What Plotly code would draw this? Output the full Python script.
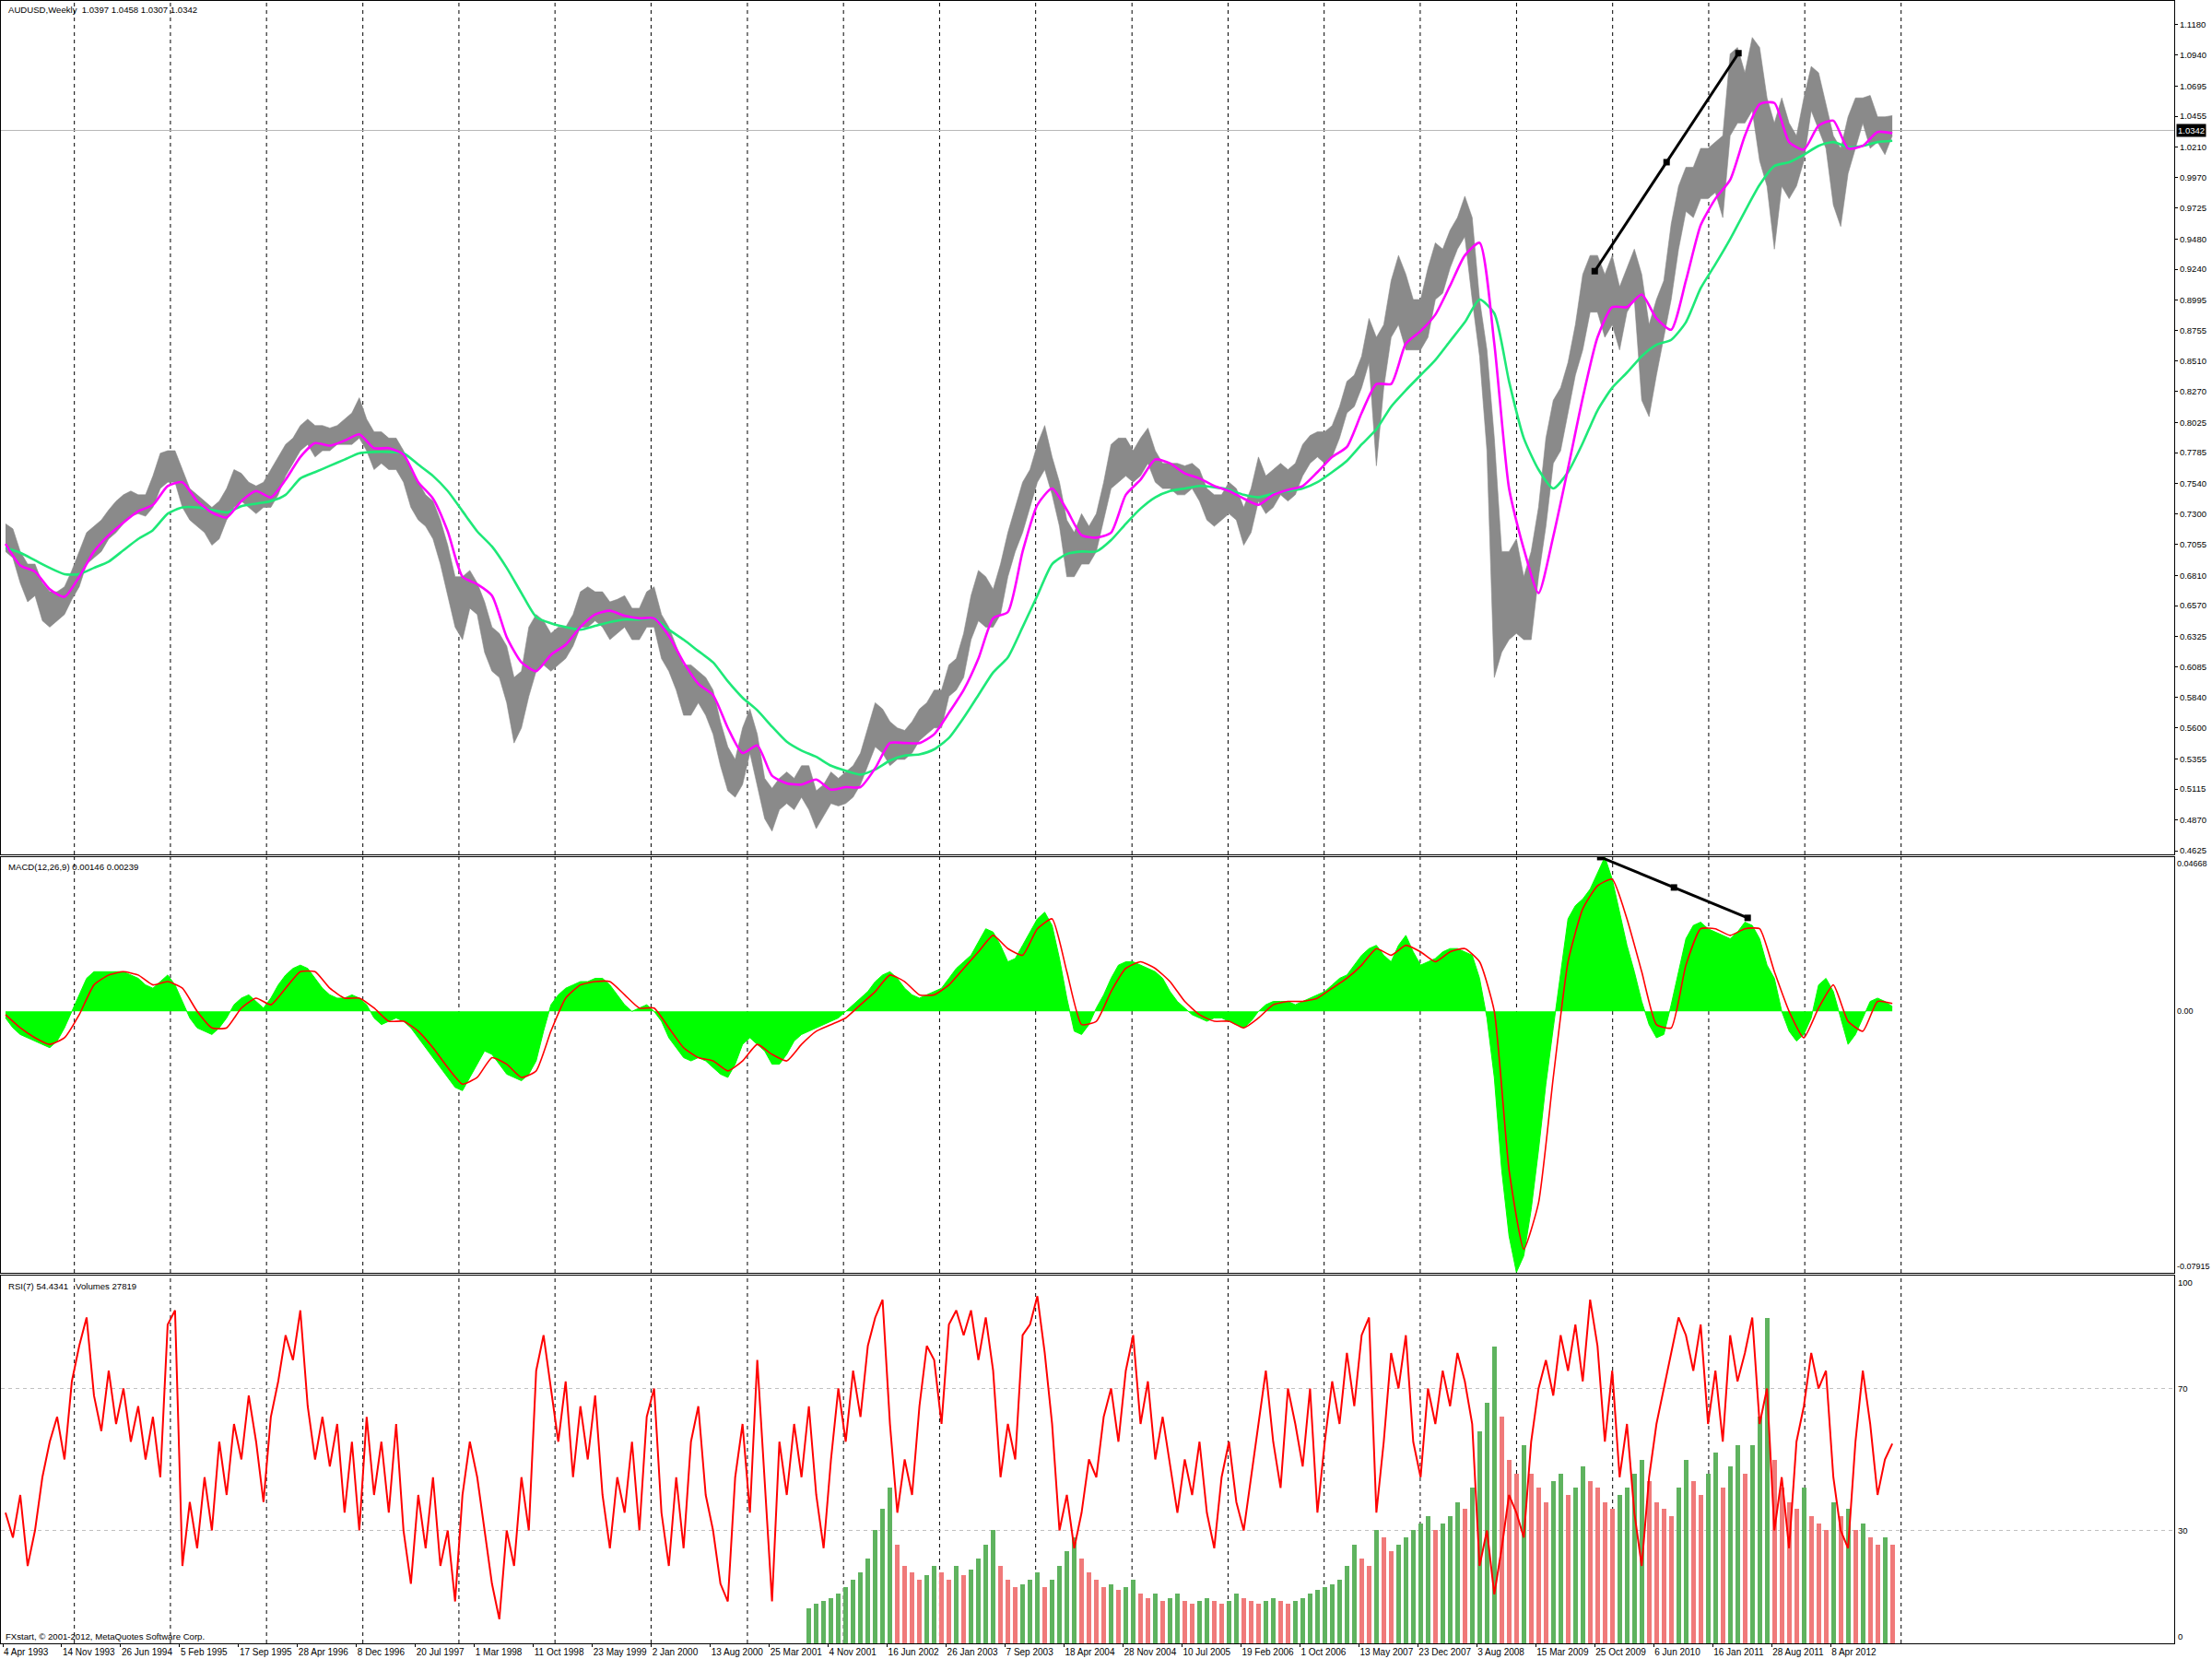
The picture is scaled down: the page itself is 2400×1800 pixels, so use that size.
import pandas as pd
import plotly.graph_objects as go
from plotly.subplots import make_subplots

# ------------------------------------------------------------------ data
SYMBOL = "AUDUSD,Weekly"
LAST_OHLC = [1.0397, 1.0458, 1.0307, 1.0342]
MACD_LAST, SIGNAL_LAST = 0.00146, 0.00239
RSI_LAST = 54.4341
VOLUME_LAST = 27819
COPYRIGHT = "FXstart, © 2001-2012, MetaQuotes Software Corp."

FIRST_BAR = "1993-04-04"   # first weekly bar
SAMPLE_WEEKS = 4           # values below were read every 4 weekly bars

price_low = [0.700,0.695,0.675,0.660,0.665,0.645,0.640,0.645,0.650,0.662,
 0.672,0.690,0.695,0.700,0.710,0.715,0.722,0.728,0.730,0.728,0.735,0.750,0.755,
 0.755,0.735,0.725,0.720,0.715,0.705,0.710,0.725,0.735,0.740,0.735,0.730,0.735,
 0.735,0.745,0.760,0.770,0.780,0.785,0.775,0.780,0.780,0.785,0.785,0.785,0.790,
 0.780,0.765,0.770,0.765,0.765,0.755,0.735,0.725,0.720,0.710,0.690,0.665,0.640,
 0.630,0.655,0.650,0.620,0.605,0.600,0.580,0.548,0.560,0.585,0.605,0.610,0.605,
 0.610,0.615,0.625,0.640,0.640,0.645,0.640,0.630,0.635,0.640,0.630,0.630,0.640,
 0.640,0.615,0.605,0.590,0.570,0.570,0.580,0.570,0.555,0.530,0.510,0.505,0.515,
 0.540,0.515,0.488,0.478,0.495,0.500,0.495,0.505,0.495,0.480,0.490,0.500,0.498,
 0.500,0.505,0.515,0.530,0.545,0.540,0.530,0.535,0.535,0.540,0.550,0.555,0.560,
 0.560,0.585,0.590,0.600,0.630,0.645,0.640,0.640,0.650,0.680,0.700,0.715,0.735,
 0.755,0.765,0.745,0.720,0.680,0.680,0.690,0.690,0.700,0.725,0.750,0.755,0.760,
 0.755,0.760,0.770,0.755,0.750,0.750,0.745,0.745,0.750,0.740,0.725,0.720,0.725,
 0.730,0.725,0.705,0.715,0.740,0.730,0.735,0.745,0.740,0.745,0.760,0.770,0.775,
 0.770,0.775,0.790,0.810,0.815,0.830,0.850,0.768,0.830,0.870,0.880,0.860,0.860,
 0.860,0.870,0.900,0.905,0.925,0.940,0.950,0.900,0.855,0.780,0.600,0.620,0.630,
 0.635,0.630,0.630,0.680,0.720,0.770,0.780,0.810,0.840,0.860,0.890,0.890,0.870,
 0.880,0.860,0.890,0.900,0.820,0.807,0.840,0.870,0.900,0.940,0.970,0.965,0.980,
 0.980,0.985,0.965,1.030,1.040,1.040,1.050,1.010,0.990,0.940,0.990,0.980,0.990,
 1.010,1.050,1.035,1.020,0.975,0.958,1.000,1.020,1.040,1.020,1.025,1.015,1.030]

price_high = [0.722,0.718,0.700,0.690,0.690,0.675,0.668,0.668,0.672,0.685,
 0.700,0.715,0.720,0.725,0.733,0.740,0.745,0.748,0.745,0.745,0.760,0.778,0.780,
 0.780,0.765,0.750,0.745,0.740,0.735,0.740,0.750,0.765,0.762,0.755,0.752,0.755,
 0.765,0.775,0.785,0.790,0.800,0.805,0.800,0.800,0.798,0.800,0.805,0.810,0.822,
 0.805,0.795,0.795,0.790,0.790,0.780,0.765,0.755,0.745,0.740,0.725,0.705,0.680,
 0.680,0.685,0.675,0.660,0.640,0.635,0.625,0.600,0.605,0.640,0.650,0.645,0.635,
 0.640,0.640,0.650,0.668,0.672,0.668,0.668,0.660,0.662,0.665,0.655,0.655,0.668,
 0.672,0.650,0.640,0.625,0.610,0.610,0.605,0.600,0.590,0.565,0.545,0.535,0.560,
 0.575,0.555,0.520,0.512,0.520,0.525,0.520,0.530,0.530,0.510,0.515,0.525,0.520,
 0.525,0.530,0.540,0.560,0.580,0.575,0.565,0.560,0.558,0.565,0.575,0.580,0.590,
 0.590,0.610,0.615,0.635,0.665,0.685,0.680,0.670,0.690,0.715,0.735,0.755,0.765,
 0.785,0.800,0.775,0.755,0.725,0.715,0.730,0.720,0.730,0.755,0.785,0.790,0.790,
 0.780,0.790,0.798,0.780,0.770,0.770,0.770,0.768,0.770,0.765,0.750,0.745,0.745,
 0.755,0.750,0.735,0.750,0.775,0.760,0.765,0.770,0.765,0.770,0.785,0.792,0.795,
 0.795,0.800,0.815,0.835,0.840,0.855,0.885,0.870,0.880,0.915,0.935,0.920,0.900,
 0.900,0.925,0.945,0.940,0.955,0.965,0.982,0.965,0.900,0.860,0.790,0.700,0.700,
 0.710,0.680,0.700,0.735,0.790,0.820,0.830,0.850,0.880,0.920,0.935,0.935,0.920,
 0.935,0.910,0.925,0.940,0.920,0.880,0.900,0.915,0.960,0.990,1.005,1.005,1.020,
 1.020,1.025,1.030,1.095,1.100,1.080,1.108,1.100,1.060,1.040,1.060,1.040,1.030,
 1.060,1.085,1.080,1.055,1.030,1.020,1.045,1.060,1.060,1.062,1.045,1.045,1.046]

# moving averages, read every 2nd sample (8 weeks)
ma_fast = [0.706,0.689,0.684,0.670,0.664,0.680,0.700,0.713,0.723,0.732,0.737,0.752,0.755,
 0.740,0.731,0.727,0.740,0.748,0.743,0.757,0.775,0.786,0.784,0.788,0.793,0.782,
 0.782,0.777,0.755,0.742,0.716,0.680,0.674,0.665,0.632,0.612,0.605,0.618,0.626,
 0.640,0.650,0.653,0.649,0.647,0.647,0.633,0.612,0.595,0.586,0.560,0.540,0.546,
 0.522,0.516,0.515,0.519,0.511,0.513,0.513,0.528,0.548,0.548,0.548,0.555,0.572,
 0.590,0.615,0.647,0.652,0.700,0.737,0.750,0.733,0.713,0.711,0.715,0.745,0.757,
 0.773,0.770,0.762,0.758,0.752,0.748,0.742,0.737,0.745,0.749,0.752,0.763,0.775,
 0.783,0.810,0.833,0.833,0.865,0.875,0.888,0.911,0.935,0.945,0.865,0.750,0.702,
 0.667,0.712,0.766,0.822,0.870,0.894,0.894,0.904,0.885,0.876,0.915,0.959,0.980,
 0.995,1.030,1.055,1.056,1.025,1.019,1.038,1.042,1.020,1.022,1.033,1.032]

ma_slow = [0.703,0.699,0.693,0.687,0.682,0.682,0.687,0.692,0.701,0.710,0.717,0.730,0.735,
 0.735,0.733,0.731,0.736,0.738,0.740,0.745,0.758,0.763,0.768,0.773,0.778,0.779,
 0.779,0.778,0.769,0.760,0.748,0.732,0.716,0.704,0.687,0.667,0.648,0.643,0.640,
 0.638,0.641,0.644,0.646,0.646,0.647,0.638,0.630,0.621,0.612,0.597,0.584,0.574,
 0.561,0.549,0.542,0.537,0.530,0.526,0.523,0.527,0.534,0.538,0.539,0.543,0.552,
 0.568,0.586,0.604,0.616,0.640,0.665,0.690,0.698,0.700,0.700,0.709,0.722,0.734,
 0.743,0.748,0.750,0.752,0.751,0.749,0.745,0.743,0.746,0.748,0.750,0.755,0.763,
 0.772,0.785,0.797,0.815,0.828,0.840,0.852,0.867,0.882,0.900,0.889,0.835,0.790,
 0.765,0.750,0.763,0.786,0.812,0.830,0.842,0.855,0.864,0.868,0.882,0.909,0.928,
 0.948,0.970,0.991,1.006,1.009,1.015,1.022,1.025,1.021,1.022,1.025,1.026]

macd_main = [-0.002,-0.005,-0.007,-0.008,-0.009,-0.010,-0.011,-0.009,-0.005,0.000,
 0.005,0.010,0.012,0.012,0.012,0.012,0.012,0.011,0.010,0.008,0.007,0.009,0.011,
 0.008,0.003,-0.002,-0.005,-0.006,-0.007,-0.005,-0.002,0.002,0.004,0.005,0.003,0.001,
 0.004,0.008,0.011,0.013,0.014,0.013,0.010,0.007,0.005,0.004,0.004,0.005,0.004,
 0.002,-0.002,-0.004,-0.003,-0.002,-0.003,-0.005,-0.008,-0.011,-0.014,-0.017,-0.020,-0.023,
 -0.024,-0.020,-0.016,-0.012,-0.013,-0.016,-0.019,-0.020,-0.021,-0.019,-0.015,-0.006,0.002,
 0.005,0.007,0.008,0.009,0.009,0.010,0.010,0.008,0.005,0.002,0.000,0.001,0.002,
 0.000,-0.003,-0.008,-0.011,-0.014,-0.015,-0.014,-0.015,-0.017,-0.019,-0.020,-0.016,-0.010,
 -0.008,-0.010,-0.012,-0.016,-0.016,-0.013,-0.009,-0.007,-0.006,-0.005,-0.004,-0.003,-0.002,
 0.000,0.002,0.004,0.006,0.009,0.011,0.012,0.010,0.007,0.005,0.004,0.005,0.006,
 0.007,0.010,0.013,0.015,0.017,0.021,0.025,0.024,0.020,0.015,0.016,0.020,0.024,
 0.028,0.030,0.026,0.016,0.004,-0.006,-0.007,-0.004,0.001,0.005,0.010,0.014,0.015,
 0.015,0.014,0.013,0.012,0.010,0.006,0.003,0.001,-0.001,-0.002,-0.003,-0.002,-0.002,
 -0.003,-0.004,-0.005,-0.003,0.000,0.002,0.003,0.003,0.003,0.002,0.003,0.004,0.005,
 0.006,0.008,0.010,0.011,0.014,0.017,0.019,0.020,0.017,0.015,0.020,0.023,0.018,
 0.014,0.015,0.016,0.018,0.019,0.019,0.018,0.017,0.010,-0.002,-0.020,-0.048,-0.068,
 -0.079,-0.074,-0.060,-0.042,-0.022,-0.005,0.012,0.028,0.032,0.034,0.037,0.042,0.0467,
 0.040,0.030,0.020,0.012,0.003,-0.004,-0.008,-0.007,0.002,0.012,0.022,0.026,0.027,
 0.025,0.024,0.023,0.022,0.024,0.027,0.026,0.022,0.014,0.010,0.000,-0.006,-0.009,
 -0.007,-0.002,0.008,0.010,0.006,-0.002,-0.010,-0.007,-0.002,0.003,0.004,0.003,0.00146]

# signal line, read every 2nd sample (8 weeks)
macd_signal = [-0.001,-0.005,-0.008,-0.010,-0.008,-0.001,0.008,0.011,0.012,0.011,0.008,0.009,0.007,
 0.000,-0.005,-0.005,0.001,0.004,0.002,0.007,0.012,0.012,0.007,0.004,0.004,0.001,
 -0.003,-0.003,-0.006,-0.011,-0.017,-0.022,-0.020,-0.014,-0.016,-0.020,-0.018,-0.006,0.004,
 0.008,0.009,0.009,0.005,0.001,0.001,-0.005,-0.011,-0.014,-0.015,-0.018,-0.015,-0.010,
 -0.013,-0.015,-0.010,-0.006,-0.004,-0.002,0.002,0.006,0.011,0.009,0.005,0.005,0.008,
 0.013,0.018,0.023,0.019,0.017,0.025,0.028,0.012,-0.004,-0.003,0.006,0.013,0.015,
 0.013,0.009,0.003,-0.001,-0.003,-0.003,-0.005,-0.002,0.002,0.003,0.003,0.004,0.007,
 0.010,0.014,0.019,0.017,0.020,0.018,0.015,0.018,0.019,0.015,0.000,-0.048,-0.072,
 -0.058,-0.020,0.015,0.031,0.038,0.040,0.028,0.012,-0.004,-0.005,0.014,0.025,0.025,
 0.023,0.025,0.025,0.012,0.000,-0.008,0.001,0.008,-0.003,-0.006,0.003,0.00239]

rsi7 = [35,28,40,20,30,45,55,62,50,72,
 82,90,68,58,75,60,70,55,65,50,62,45,88,
 92,20,38,25,45,30,55,40,60,50,68,55,38,
 62,72,85,78,92,65,50,62,48,60,35,55,30,
 62,40,55,35,60,30,15,40,25,45,20,30,10,
 40,55,45,30,15,5,30,20,45,30,75,85,70,
 55,72,45,65,50,68,40,25,45,35,55,30,62,
 70,35,20,45,25,55,65,40,30,15,10,45,60,
 35,78,45,10,55,40,60,45,65,40,25,50,70,
 55,75,62,82,90,95,60,35,50,40,65,82,78,
 60,88,92,85,92,78,90,75,45,60,50,85,88,
 96,80,60,30,40,25,35,50,45,62,70,55,75,
 85,60,72,50,62,48,35,50,40,55,35,25,45,
 55,38,30,45,60,75,55,42,70,60,48,70,35,
 55,72,60,80,65,85,90,35,55,80,70,85,55,
 45,70,60,75,65,80,72,60,20,30,12,25,40,
 35,28,55,70,78,68,85,75,88,72,95,82,55,
 75,45,60,35,20,45,60,70,80,90,85,75,88,
 60,75,55,85,72,80,90,60,70,30,45,25,55,
 65,80,70,75,45,30,25,55,75,60,40,50,54.4341]

VOLUME_FIRST_SAMPLE = 109
volumes = [10000,11200,12000,12800,14000,16000,18000,20000,24000,32000,38000,44000,28000,
 22000,20000,18000,19200,22000,20000,18000,22000,19200,20800,24000,28000,32000,
 22000,18000,16000,16800,18000,20000,16000,18000,22000,26000,30000,24000,20000,
 18000,16000,16800,15200,16000,18000,14000,12800,14000,12000,12800,14000,12000,
 11200,12000,12800,12000,11200,12000,14000,12800,12000,11200,12000,12800,12000,
 11200,12000,12800,14000,15200,16000,16800,18000,22000,28000,24000,22000,32000,
 30000,26000,28000,30000,32000,34000,36000,32000,34000,36000,40000,38000,44000,
 60000,68000,84000,64000,52000,48000,56000,48000,44000,40000,46000,48000,42000,
 44000,50000,46000,44000,40000,38000,42000,44000,48000,52000,46000,40000,38000,
 36000,44000,52000,46000,42000,48000,54000,44000,50000,56000,48000,56000,64000,
 92000,52000,44000,40000,38000,44000,36000,34000,32000,40000,36000,38000,32000,
 34000,30000,28000,30000,VOLUME_LAST]

# drawn trend lines (chart objects)
trend_price_dates = ["2009-10-25", "2010-07-25", "2011-04-24"]
trend_price_values = [0.9225, 1.0090, 1.0955]
trend_macd_dates = ["2009-11-15", "2010-08-22", "2011-05-29"]
trend_macd_values = [0.0467, 0.0375, 0.0283]

price_ticks = [1.1180, 1.0940, 1.0695, 1.0455, 1.0210, 0.9970, 0.9725, 0.9480, 0.9240,
               0.8995, 0.8755, 0.8510, 0.8270, 0.8025, 0.7785, 0.7540, 0.7300, 0.7055,
               0.6810, 0.6570, 0.6325, 0.6085, 0.5840, 0.5600, 0.5355, 0.5115, 0.4870, 0.4625]
macd_scale = [0.04668, 0.00, -0.07915]
macd_scale_text = ["0.04668", "0.00", "-0.07915"]
rsi_scale = [100, 70, 30, 0]
rsi_levels = [70, 30]
date_labels = ["4 Apr 1993", "14 Nov 1993", "26 Jun 1994", "5 Feb 1995", "17 Sep 1995",
               "28 Apr 1996", "8 Dec 1996", "20 Jul 1997", "1 Mar 1998", "11 Oct 1998",
               "23 May 1999", "2 Jan 2000", "13 Aug 2000", "25 Mar 2001", "4 Nov 2001",
               "16 Jun 2002", "26 Jan 2003", "7 Sep 2003", "18 Apr 2004", "28 Nov 2004",
               "10 Jul 2005", "19 Feb 2006", "1 Oct 2006", "13 May 2007", "23 Dec 2007",
               "3 Aug 2008", "15 Mar 2009", "25 Oct 2009", "6 Jun 2010", "16 Jan 2011",
               "28 Aug 2011", "8 Apr 2012"]
GRID_YEARS = list(range(1994, 2014))

# ------------------------------------------------------------------ helpers
W, H = 2400, 1800
FONT = "Liberation Sans, Arial, sans-serif"
TXT = 9.5
first = pd.Timestamp(FIRST_BAR)
DAY = pd.Timedelta(days=1)
SAMPLE_DAYS = SAMPLE_WEEKS * 7


def sample_dates(n, start=0, step=1):
    return [first + ((start + i * step) * SAMPLE_DAYS + SAMPLE_DAYS / 2 - 3.5) * DAY
            for i in range(n)]


d_price = sample_dates(len(price_high))
d_ma_fast = sample_dates(len(ma_fast), step=2)
d_ma_slow = sample_dates(len(ma_slow), step=2)
d_macd = sample_dates(len(macd_main))
d_signal = sample_dates(len(macd_signal), step=2)
d_rsi = sample_dates(len(rsi7))
d_vol = sample_dates(len(volumes), start=VOLUME_FIRST_SAMPLE)
bar_ms = SAMPLE_DAYS * 86400000

vol_colors = []
for i, v in enumerate(volumes):
    up = i == 0 or v >= volumes[i - 1]
    vol_colors.append("#5FB35F" if up else "#F07A7A")

# ------------------------------------------------------------------ figure
fig = make_subplots(rows=3, cols=1, shared_xaxes=True,
                    specs=[[{}], [{}], [{"secondary_y": True}]])

BAR_GRAY = "#8a8a8a"
fig.add_trace(go.Scatter(x=d_price, y=price_low, mode="lines",
                         line=dict(color=BAR_GRAY, width=0.6), hoverinfo="skip"), row=1, col=1)
fig.add_trace(go.Scatter(x=d_price, y=price_high, mode="lines", fill="tonexty",
                         fillcolor=BAR_GRAY,
                         line=dict(color=BAR_GRAY, width=0.6)), row=1, col=1)
fig.add_trace(go.Scatter(x=d_ma_slow, y=ma_slow, mode="lines",
                         line=dict(color="#1EE878", width=2.6, shape="spline", smoothing=0.6)),
              row=1, col=1)
fig.add_trace(go.Scatter(x=d_ma_fast, y=ma_fast, mode="lines",
                         line=dict(color="#FF00FF", width=2.6, shape="spline", smoothing=0.6)),
              row=1, col=1)
fig.add_trace(go.Scatter(x=pd.to_datetime(trend_price_dates), y=trend_price_values,
                         mode="lines+markers", line=dict(color="black", width=3),
                         marker=dict(symbol="square", size=7, color="black")), row=1, col=1)

# MACD main as histogram area
fig.add_trace(go.Scatter(x=d_macd, y=macd_main, mode="lines", fill="tozeroy",
                         fillcolor="#00FF00", line=dict(color="#00FF00", width=1)),
              row=2, col=1)
fig.add_trace(go.Scatter(x=d_signal, y=macd_signal, mode="lines",
                         line=dict(color="#FF0000", width=1.6, shape="spline", smoothing=0.5)),
              row=2, col=1)
fig.add_trace(go.Scatter(x=pd.to_datetime(trend_macd_dates), y=trend_macd_values,
                         mode="lines+markers", line=dict(color="black", width=3),
                         marker=dict(symbol="square", size=7, color="black")), row=2, col=1)

# Volumes (primary) + RSI (secondary, on top)
fig.add_trace(go.Bar(x=d_vol, y=volumes, width=[bar_ms * 0.6] * len(volumes),
                     marker=dict(color=vol_colors, line=dict(width=0))),
              row=3, col=1, secondary_y=False)
fig.add_trace(go.Scatter(x=d_rsi, y=rsi7, mode="lines",
                         line=dict(color="#FF0000", width=2)),
              row=3, col=1, secondary_y=True)

# ------------------------------------------------------------------ layout
PL, PR = 1, 41                      # plot area margins (px)
x_left = first - 7 * DAY            # bar w sits at 3 + 2*w px
x_right = first + (W - PL - PR - 2) / 2 * 7 * DAY + 7 * DAY * 0.5

def dom(top_px, bottom_px):
    return [1 - bottom_px / H, 1 - top_px / H]

y_main = dom(1, 927)
y_macd = dom(930, 1381)
y_rsi = dom(1384, 1783)

axis_common = dict(showgrid=False, zeroline=False, showline=True, mirror=True,
                   linecolor="black", linewidth=1)

fig.update_layout(
    width=W, height=H, margin=dict(l=PL, r=PR, t=0, b=0),
    paper_bgcolor="white", plot_bgcolor="white", showlegend=False,
    bargap=0, font=dict(family=FONT, size=TXT, color="black"),
)
for ax in ("xaxis", "xaxis2", "xaxis3"):
    fig.layout[ax].update(range=[x_left, x_right], domain=[0, 1], automargin=False,
                          **axis_common)
fig.layout.xaxis.update(showticklabels=False, ticks="")
fig.layout.xaxis2.update(showticklabels=False, ticks="")
fig.layout.xaxis3.update(
    tickmode="array", tickvals=pd.to_datetime(date_labels, format="%d %b %Y"),
    ticktext=date_labels, ticks="outside", ticklen=3, tickcolor="black", tickangle=0,
    ticklabelposition="outside right", tickfont=dict(size=10, family=FONT),
)

fig.layout.yaxis.update(
    domain=y_main, range=[0.4596, 1.1370], side="right", tickmode="array",
    tickvals=price_ticks, ticktext=[f"{v:.4f}" for v in price_ticks],
    ticks="outside", ticklen=3, tickcolor="black", tickfont=dict(size=TXT, family=FONT),
    automargin=False, **axis_common)
fig.layout.yaxis2.update(domain=y_macd, range=[macd_scale[2], macd_scale[0]], side="right",
                         showticklabels=False, ticks="", automargin=False, **axis_common)
fig.layout.yaxis3.update(domain=y_rsi, range=[0, 104000], side="right",
                         showticklabels=False, ticks="", automargin=False, **axis_common)
fig.layout.yaxis4.update(range=[-1.8, 101.8], showticklabels=False, ticks="",
                         showgrid=False, zeroline=False, showline=False, automargin=False)

shapes = []
for yr in GRID_YEARS:
    for yref in ("y domain", "y2 domain", "y3 domain"):
        shapes.append(dict(type="line", xref="x", yref=yref, x0=f"{yr}-01-01",
                           x1=f"{yr}-01-01", y0=0, y1=1, layer="below",
                           line=dict(color="black", width=1, dash="4px,4px")))
shapes.append(dict(type="line", xref="x domain", yref="y", x0=0, x1=1,
                   y0=LAST_OHLC[3], y1=LAST_OHLC[3], layer="below",
                   line=dict(color="#B8B8B8", width=1)))
for lv in rsi_levels:
    shapes.append(dict(type="line", xref="x3 domain", yref="y4", x0=0, x1=1, y0=lv, y1=lv,
                       layer="below", line=dict(color="#C0C0C0", width=1, dash="4px,4px")))
fig.update_layout(shapes=shapes)

ann = []
NB = "\u00a0"
LBL = 9.6
ann.append(dict(xref="paper", yref="paper", x=0, y=1 - 11 / H, xanchor="left",
                yanchor="middle", xshift=6, showarrow=False, font=dict(size=LBL),
                text=f"{SYMBOL}{NB}{NB}" + " ".join(f"{v:.4f}" for v in LAST_OHLC)))
ann.append(dict(xref="paper", yref="paper", x=0, y=1 - 940 / H, xanchor="left",
                yanchor="middle", xshift=6, showarrow=False, font=dict(size=LBL),
                text=f"MACD(12,26,9) {MACD_LAST:.5f} {SIGNAL_LAST:.5f}"))
ann.append(dict(xref="paper", yref="paper", x=0, y=1 - 1395 / H, xanchor="left",
                yanchor="middle", xshift=6, showarrow=False, font=dict(size=LBL),
                text=f"RSI(7) {RSI_LAST:.4f}{NB}{NB}{NB}Volumes {VOLUME_LAST}"))
ann.append(dict(xref="paper", yref="paper", x=0, y=1 - 1775 / H, xanchor="left",
                yanchor="middle", xshift=3, showarrow=False, font=dict(size=LBL),
                text=COPYRIGHT))
ann.append(dict(xref="paper", yref="y", x=1, y=LAST_OHLC[3], xanchor="left",
                yanchor="middle", xshift=2, showarrow=False, bgcolor="black",
                borderpad=1, font=dict(size=TXT, color="white"), text=f"{LAST_OHLC[3]:.4f}"))
anchors = ["top", "middle", "bottom"]
for v, t, a in zip(macd_scale, macd_scale_text, anchors):
    ann.append(dict(xref="paper", yref="y2", x=1, y=v, xanchor="left", yanchor=a,
                    xshift=1, showarrow=False, font=dict(size=9), text=t))
rsi_anch = ["top", "middle", "middle", "bottom"]
for v, a in zip(rsi_scale, rsi_anch):
    yv = 101.8 if v == 100 else (-1.8 if v == 0 else v)
    ann.append(dict(xref="paper", yref="y4", x=1, y=yv, xanchor="left", yanchor=a,
                    xshift=2, showarrow=False, font=dict(size=TXT), text=str(v)))
fig.update_layout(annotations=ann)

fig.write_html("out.html", config={"displayModeBar": False},
               post_script="document.body.style.margin='0';")
